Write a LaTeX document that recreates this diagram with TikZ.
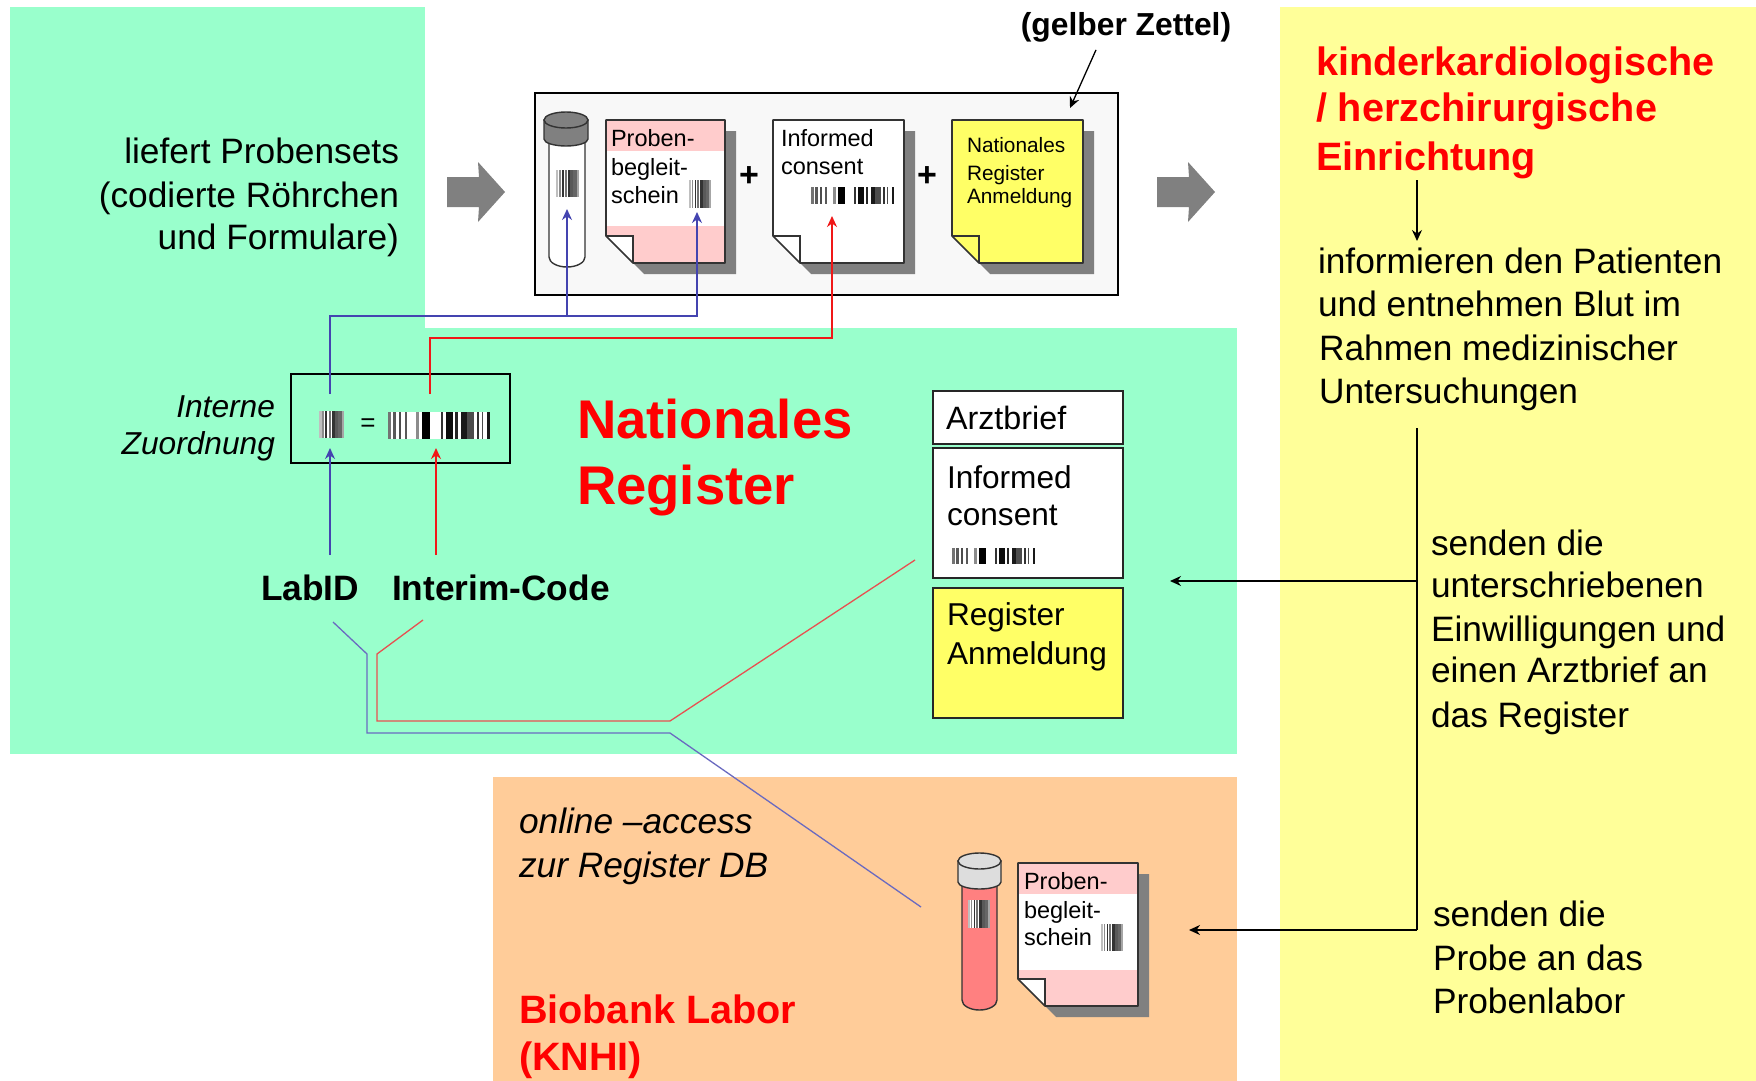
\documentclass[tikz,border=0pt]{standalone}
\usepackage{fontspec}
\setmainfont{Liberation Sans}
\usetikzlibrary{arrows.meta}
\definecolor{reggreen}{HTML}{99FFCC}
\definecolor{clinyellow}{HTML}{FFFF99}
\definecolor{laborange}{HTML}{FFCC99}
\definecolor{docpink}{HTML}{FFCCCC}
\definecolor{noteyellow}{HTML}{FFFF66}
\definecolor{setbg}{HTML}{F8F8F8}
\definecolor{linkblue}{HTML}{4444B0}
\definecolor{linkred}{HTML}{F01818}
\definecolor{softblue}{HTML}{6A6AC0}
\definecolor{softred}{HTML}{E85050}
\definecolor{shadegray}{HTML}{808080}
\definecolor{tubered}{HTML}{FF8080}
\definecolor{capgray}{HTML}{DDDDDD}
\newcommand{\fs}[2]{\fontsize{#1}{#2}\selectfont}
\tikzset{
  lbl/.style={inner sep=0pt,outer sep=0pt,text=black,font=\fs{35.3}{42}},
  small/.style={lbl,font=\fs{23.5}{28}},
  note/.style={lbl,font=\fs{20.8}{25}},
  card/.style={lbl,font=\fs{31.6}{38}},
  side/.style={lbl,font=\fs{31.7}{37}\itshape},
  heading/.style={lbl,text=red,font=\fs{39.6}{47}\bfseries},
  codelabel/.style={lbl,font=\fs{35.3}{40}\bfseries},
  bluelink/.style={draw=linkblue,line width=1.5pt},
  redlink/.style={draw=linkred,line width=1.5pt},
  softbluelink/.style={draw=softblue,line width=1.3pt},
  softredlink/.style={draw=softred,line width=1.3pt},
  tipped/.style={-{Stealth[length=11pt,width=10pt]}},
  blackline/.style={draw=black,line width=1.3pt},
  frame/.style={draw=black,line width=1.6pt},
  cardbox/.style={draw=black!85,line width=1.7pt,inner sep=0pt},
}
% x, y, width, height
\newcommand{\shortcode}[4]{%
  \begin{scope}[shift={(#1,#2)},xscale=#3/100,yscale=#4/100]
    \fill[white] (0,0) rectangle (100,100);
    \foreach \a/\b/\g in {0/10/25,12/20/45,25/33/80,38/46/55,50/62/80,62/75/65,75/90/60,90/100/35}
      \fill[black!\g] (\a,0) rectangle (\b,100);
  \end{scope}}
\newcommand{\longcode}[4]{%
  \begin{scope}[shift={(#1,#2)},xscale=#3/100,yscale=#4/100]
    \fill[white] (0,0) rectangle (100,100);
    \foreach \a/\b/\g in {0/3/55,5/8/65,11/13/70,17/19/65,27/30/45,33/41/100,52/54/80,57/64/95,66/69/85,72/77/90,77/84/70,87/89/80,92/93/70,97/100/90}
      \fill[black!\g] (\a,0) rectangle (\b,100);
  \end{scope}}
% left, top, right, bottom, page colour
\newcommand{\foldedpage}[5]{%
  \fill[shadegray] (#1+27+11,#2+11) -- (#3+11,#2+11) -- (#3+11,#4+11) -- (#1+27+11,#4+11) -- (#1+27,#4) -- cycle;
  \fill[#5] (#1,#2) -- (#3,#2) -- (#3,#4) -- (#1+27,#4) -- (#1,#4-27) -- cycle;}
\newcommand{\pageoutline}[4]{%
  \draw[line width=1.6pt,draw=black!80,line join=round] (#1,#2) -- (#3,#2) -- (#3,#4) -- (#1+27,#4) -- (#1,#4-27) -- cycle;
  \draw[line width=1.4pt,draw=black!80] (#1,#4-27) -- (#1+27,#4-27) -- (#1+27,#4);}
\newcommand{\fold}[3]{\fill[#3] (#1,#2-27) -- (#1+27,#2-27) -- (#1+27,#2) -- cycle;}
% left, right, captop, capbottom, bodyleft, bodyright, bottom, capcolour, bodycolour
\newcommand{\tube}[9]{%
  \draw[fill=#9,line width=1.4pt,draw=black!80] (#5,#4-4) -- (#5,#7-10) arc[start angle=180,end angle=360,x radius=(#6-#5)/2,y radius=-10] -- (#6,#4-4) -- cycle;
  \draw[fill=#8,line width=1.4pt,draw=black!80] (#1,#3+8) -- (#1,#4-7) arc[start angle=180,end angle=360,x radius=(#2-#1)/2,y radius=-7] -- (#2,#3+8) -- cycle;
  \draw[fill=#8,line width=1.4pt,draw=black!80] ({(#1+#2)/2},#3+8) ellipse[x radius=(#2-#1)/2,y radius=8];}
\newcommand{\blockarrow}[2]{%
  \fill[shadegray] (#1,#2-15) -- (#1+32,#2-15) -- (#1+31,#2-30) -- (#1+58,#2) -- (#1+31,#2+30) -- (#1+32,#2+15) -- (#1,#2+15) -- cycle;}
\begin{document}
\begin{tikzpicture}[x=1pt,y=-1pt]
\useasboundingbox (0,0) rectangle (1756,1081);
\fill[white] (0,0) rectangle (1756,1081);
% areas
\fill[reggreen] (10,7) rectangle (425,340);
\fill[reggreen] (10,328) rectangle (1237,754);
\fill[clinyellow] (1280,7) rectangle (1756,1081);
\fill[laborange] (493,777) rectangle (1237,1081);

% probe set frame
\node[frame,fill=setbg,minimum width=583pt,minimum height=202pt,anchor=north west,inner sep=0pt] (setframe) at (534,92) {};
\tube{544}{588}{112}{146}{549}{585}{267}{shadegray}{white}
\shortcode{556}{170}{23}{27}
\foldedpage{606}{120}{725}{263}{docpink}
\fill[white] (607,151) rectangle (724,226);
\fold{606}{263}{white}
\pageoutline{606}{120}{725}{263}
\shortcode{689}{180}{22}{28}
\foldedpage{773}{120}{904}{263}{white}
\pageoutline{773}{120}{904}{263}
\longcode{811}{187}{83}{17}
\foldedpage{952}{120}{1083}{263}{noteyellow}
\pageoutline{952}{120}{1083}{263}
\node[small,anchor=base west] (pb1) at (611,146) {Proben-};
\node[small,anchor=base west] (pb2) at (611,175) {begleit-};
\node[small,anchor=base west] (pb3) at (611,203) {schein};
\node[small,anchor=base west] (ic1) at (781,146) {Informed};
\node[small,anchor=base west] (ic2) at (781,174) {consent};
\node[note,anchor=base west] (nr1) at (967,152) {Nationales};
\node[note,anchor=base west] (nr2) at (967,180) {Register};
\node[note,anchor=base west] (nr3) at (967,203) {Anmeldung};
\node[lbl,font=\fs{34}{40}\bfseries] (plus1) at (749,177) {+};
\node[lbl,font=\fs{34}{40}\bfseries] (plus2) at (927,177) {+};

\blockarrow{447}{192}
\blockarrow{1157}{192}

\node[lbl,font=\fs{31.8}{38}\bfseries] (gelb) at (1126,27) {(gelber Zettel)};
\coordinate (gelbtip) at (1070,108);
\draw[blackline,tipped] (gelb.south) ++(-30,8) -- (gelbtip);

% left text
\node[lbl,anchor=base east] (lf1) at (399,163) {liefert Probensets};
\node[lbl,anchor=base east] (lf2) at (399,207) {(codierte Röhrchen};
\node[lbl,anchor=base east] (lf3) at (399,249) {und Formulare)};

% internal assignment
\node[frame,minimum width=219pt,minimum height=89pt,anchor=north west,inner sep=0pt] (assign) at (290,373) {};
\shortcode{319}{411}{25}{27}
\node[lbl,font=\fs{26}{30}] (eq) at (368,425) {=};
\longcode{388}{412}{102}{27}
\node[side,anchor=base east] (iz1) at (275,417) {Interne};
\node[side,anchor=base east] (iz2) at (275,454) {Zuordnung};

% links to the set
\coordinate (bstart) at (330,394);
\coordinate (bjoin) at (567,316);
\coordinate (tubeend) at (567,209);
\coordinate (pageend) at (697,212);
\draw[bluelink,tipped] (bstart) -- (330,316) -- (697,316) -- (pageend);
\draw[bluelink,tipped] (bjoin) -- (tubeend);
\coordinate (rstart) at (430,394);
\coordinate (consentend) at (832,216);
\draw[redlink,tipped] (rstart) -- (430,338) -- (832,338) -- (consentend);

% labels
\node[codelabel,anchor=base west] (labid) at (261,600) {LabID};
\node[codelabel,anchor=base west] (interim) at (392,600) {Interim-Code};
\coordinate (labup) at (330,555);
\coordinate (labtip) at (330,448);
\coordinate (intup) at (436,555);
\coordinate (inttip) at (436,448);
\draw[bluelink,tipped] (labup) -- (labtip);
\draw[redlink,tipped] (intup) -- (inttip);

% title
\node[lbl,text=red,font=\fs{54.5}{62}\bfseries,anchor=base west] (title1) at (577,438) {Nationales};
\node[lbl,text=red,font=\fs{54.5}{62}\bfseries,anchor=base west] (title2) at (577,504) {Register};

% register cards
\node[cardbox,fill=white,minimum width=190pt,minimum height=53pt,anchor=north west] (arzt) at (932,390) {};
\node[cardbox,fill=white,minimum width=190pt,minimum height=130pt,anchor=north west] (consent) at (932,447) {};
\node[cardbox,fill=noteyellow,minimum width=190pt,minimum height=130pt,anchor=north west] (anmeld) at (932,587) {};
\node[card,anchor=base west,font=\fs{32.3}{38}] (t1) at (946,429) {Arztbrief};
\node[card,anchor=base west] (t2) at (947,488) {Informed};
\node[card,anchor=base west] (t3) at (947,525) {consent};
\longcode{952}{548}{83}{16}
\node[card,anchor=base west] (t4) at (947,625) {Register};
\node[card,anchor=base west] (t5) at (947,664) {Anmeldung};

% long links
\coordinate (softb1) at (333,622);
\coordinate (softb2) at (921,907);
\coordinate (softr1) at (423,620);
\coordinate (softr2) at (915,560);
\draw[softbluelink] (softb1) -- (367,654) -- (367,733) -- (670,733) -- (softb2);
\draw[softredlink] (softr1) -- (377,654) -- (377,721) -- (670,721) -- (softr2);

% biobank
\node[lbl,font=\fs{35.3}{42}\itshape,anchor=base west] (ol1) at (519,833) {online –access};
\node[lbl,font=\fs{35.3}{42}\itshape,anchor=base west] (ol2) at (519,877) {zur Register DB};
\node[heading,anchor=base west] (bb1) at (519,1023) {Biobank Labor};
\node[heading,anchor=base west] (bb2) at (519,1070) {(KNHI)};
\tube{958}{1001}{853}{889}{962}{997}{1010}{capgray}{tubered}
\shortcode{968}{900}{22}{28}
\foldedpage{1018}{863}{1138}{1006}{docpink}
\fill[white] (1019,894) rectangle (1137,970);
\fold{1018}{1006}{white}
\pageoutline{1018}{863}{1138}{1006}
\shortcode{1101}{924}{22}{27}
\node[small,anchor=base west] (lb1) at (1024,889) {Proben-};
\node[small,anchor=base west] (lb2) at (1024,918) {begleit-};
\node[small,anchor=base west] (lb3) at (1024,945) {schein};

% right column
\node[heading,anchor=base west] (k1) at (1316,75) {kinderkardiologische};
\node[heading,anchor=base west] (k2) at (1316,121) {/ herzchirurgische};
\node[heading,anchor=base west] (k3) at (1316,170) {Einrichtung};
\coordinate (kstart) at (1417,180);
\coordinate (ktip) at (1417,241);
\draw[blackline,tipped] (kstart) -- (ktip);
\node[lbl,anchor=base west] (i1) at (1318,273) {informieren den Patienten};
\node[lbl,anchor=base west] (i2) at (1318,316) {und entnehmen Blut im};
\node[lbl,anchor=base west] (i3) at (1319,360) {Rahmen medizinischer};
\node[lbl,anchor=base west] (i4) at (1319,403) {Untersuchungen};
\coordinate (trunk) at (1417,428);
\coordinate (regjoin) at (1417,581);
\coordinate (labjoin) at (1417,930);
\coordinate (regtip) at (1170,581);
\coordinate (labtip2) at (1189,930);
\draw[blackline] (trunk) -- (labjoin);
\draw[blackline,tipped] (regjoin) -- (regtip);
\draw[blackline,tipped] (labjoin) -- (labtip2);
\node[lbl,anchor=base west] (s1) at (1431,555) {senden die};
\node[lbl,anchor=base west] (s2) at (1431,597) {unterschriebenen};
\node[lbl,anchor=base west] (s3) at (1431,641) {Einwilligungen und};
\node[lbl,anchor=base west] (s4) at (1431,682) {einen Arztbrief an};
\node[lbl,anchor=base west] (s5) at (1431,727) {das Register};
\node[lbl,anchor=base west] (p1) at (1433,926) {senden die};
\node[lbl,anchor=base west] (p2) at (1433,970) {Probe an das};
\node[lbl,anchor=base west] (p3) at (1433,1013) {Probenlabor};
\end{tikzpicture}
\end{document}
